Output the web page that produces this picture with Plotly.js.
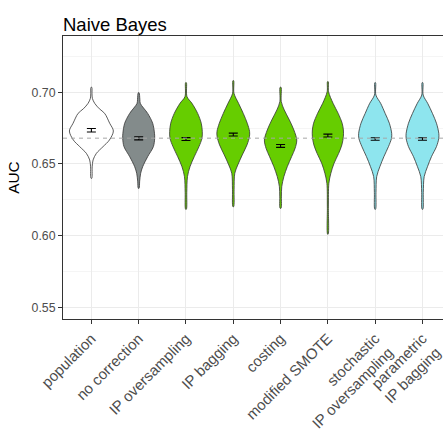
<!DOCTYPE html>
<html>
<head>
<meta charset="utf-8">
<script src="https://cdn.plot.ly/plotly-3.0.1.min.js"></script>
<style>html,body{margin:0;padding:0;background:#fff;}#chart{width:443px;height:439px;}</style>
</head>
<body>
<div id="chart"></div>
<script>
// ---- data ----
const categories = ["population", "no correction", "IP oversampling", "IP bagging",
  "costing", "modified SMOTE", "stochastic IP oversampling", "parametric IP bagging"];
const tickLabels = ["population", "no correction", "IP oversampling", "IP bagging",
  "costing", "modified SMOTE", "stochastic<br>IP oversampling", "parametric<br>IP bagging"];
const meanAUC = [0.6735, 0.6679, 0.6674, 0.6705, 0.6626, 0.6698, 0.6674, 0.6674];
const seAUC   = [0.0012, 0.0011, 0.0010, 0.0010, 0.0010, 0.0010, 0.0009, 0.0009];
const referenceAUC = 0.668;

// density profiles: AUC levels (top to bottom) and violin half-widths (category units)
const densY_population = [0.7035, 0.6990, 0.6958, 0.6923, 0.6885, 0.6853, 0.6784, 0.6730, 0.6667, 0.6621, 0.6574, 0.6528, 0.6480, 0.6400];
const densW_population = [0.008, 0.013, 0.021, 0.070, 0.169, 0.281, 0.387, 0.465, 0.381, 0.247, 0.106, 0.036, 0.017, 0.008];
const densY_noCorrection = [0.6997, 0.6950, 0.6923, 0.6853, 0.6784, 0.6714, 0.6679, 0.6621, 0.6551, 0.6481, 0.6435, 0.6380, 0.6330];
const densW_noCorrection = [0.008, 0.025, 0.034, 0.190, 0.296, 0.334, 0.338, 0.311, 0.190, 0.085, 0.042, 0.021, 0.008];
const densY_ipOversampling = [0.7067, 0.6970, 0.6923, 0.6853, 0.6784, 0.6726, 0.6679, 0.6621, 0.6551, 0.6481, 0.6412, 0.6300, 0.6184];
const densW_ipOversampling = [0.008, 0.021, 0.127, 0.247, 0.323, 0.345, 0.338, 0.275, 0.175, 0.085, 0.032, 0.017, 0.008];
const densY_ipBagging = [0.7081, 0.6993, 0.6923, 0.6853, 0.6784, 0.6726, 0.6691, 0.6633, 0.6563, 0.6493, 0.6435, 0.6320, 0.6202];
const densW_ipBagging = [0.008, 0.015, 0.112, 0.211, 0.296, 0.345, 0.342, 0.290, 0.190, 0.095, 0.032, 0.017, 0.008];
const densY_costing = [0.7035, 0.6935, 0.6877, 0.6807, 0.6737, 0.6667, 0.6609, 0.6551, 0.6481, 0.6412, 0.6342, 0.6270, 0.6191];
const densW_costing = [0.010, 0.015, 0.078, 0.186, 0.281, 0.342, 0.307, 0.233, 0.142, 0.070, 0.025, 0.017, 0.010];
const densY_modSMOTE = [0.7074, 0.7004, 0.6923, 0.6853, 0.6784, 0.6737, 0.6691, 0.6633, 0.6574, 0.6505, 0.6435, 0.6365, 0.6200, 0.6010];
const densW_modSMOTE = [0.008, 0.015, 0.110, 0.218, 0.302, 0.328, 0.328, 0.296, 0.228, 0.131, 0.063, 0.021, 0.011, 0.006];
const densY_stochIP = [0.7067, 0.6981, 0.6923, 0.6853, 0.6784, 0.6714, 0.6679, 0.6621, 0.6551, 0.6481, 0.6412, 0.6300, 0.6184];
const densW_stochIP = [0.008, 0.015, 0.116, 0.211, 0.300, 0.349, 0.345, 0.281, 0.184, 0.099, 0.032, 0.017, 0.008];
const densY_paramIP = [0.7067, 0.6981, 0.6923, 0.6853, 0.6784, 0.6714, 0.6679, 0.6621, 0.6551, 0.6481, 0.6412, 0.6300, 0.6184];
const densW_paramIP = [0.008, 0.015, 0.110, 0.211, 0.296, 0.345, 0.345, 0.296, 0.190, 0.106, 0.036, 0.017, 0.008];

// ---- styles ----
const fills = ["#FFFFFF", "#838B8B", "#66CD00", "#66CD00", "#66CD00", "#66CD00", "#8EE5EE", "#8EE5EE"];
const profilesY = [densY_population, densY_noCorrection, densY_ipOversampling, densY_ipBagging,
  densY_costing, densY_modSMOTE, densY_stochIP, densY_paramIP];
const profilesW = [densW_population, densW_noCorrection, densW_ipOversampling, densW_ipBagging,
  densW_costing, densW_modSMOTE, densW_stochIP, densW_paramIP];
const FONT = "Liberation Sans, Arial, Helvetica, sans-serif";

const traces = [];
categories.forEach((c, i) => {
  const pos = i + 1;
  const ys = profilesY[i], ws = profilesW[i];
  const px = [], py = [];
  for (let k = 0; k < ys.length; k++) { px.push(pos + ws[k]); py.push(ys[k]); }
  for (let k = ys.length - 1; k >= 0; k--) { px.push(pos - ws[k]); py.push(ys[k]); }
  px.push(px[0]); py.push(py[0]);
  traces.push({
    type: "scatter", mode: "lines", x: px, y: py, fill: "toself",
    fillcolor: fills[i], line: {color: "#333333", width: 0.8, shape: "spline", smoothing: 0.9},
    hoverinfo: "skip", showlegend: false, name: c
  });
});
traces.push({
  type: "scatter", mode: "markers",
  x: categories.map((c, i) => i + 1), y: meanAUC,
  marker: {size: 1, color: "rgba(0,0,0,0)"},
  error_y: {type: "data", array: seAUC, visible: true, color: "#000000", thickness: 1.1, width: 4.5},
  showlegend: false, hoverinfo: "skip"
});

const layout = {
  width: 443, height: 439,
  margin: {l: 63, r: 0, t: 36, b: 120},
  paper_bgcolor: "#FFFFFF", plot_bgcolor: "#FFFFFF",
  font: {family: FONT, color: "#4D4D4D"},
  title: {text: "Naive Bayes", font: {family: FONT, size: 18.5, color: "#000000"},
    xref: "paper", x: 0, xanchor: "left", yref: "container", y: 0.929, yanchor: "bottom"},
  xaxis: {
    range: [0.4, 8.434], tickmode: "array",
    tickvals: categories.map((c, i) => i + 1), ticktext: tickLabels,
    tickangle: -45, tickfont: {family: FONT, size: 15, color: "#4D4D4D"},
    ticklabeloverflow: "allow",
    ticks: "outside", ticklen: 4, tickwidth: 1, tickcolor: "#333333",
    showgrid: true, gridcolor: "#EBEBEB", gridwidth: 1,
    showline: true, linecolor: "#333333", linewidth: 1, mirror: true,
    zeroline: false, fixedrange: true
  },
  yaxis: {
    range: [0.5418, 0.7393], tickmode: "array",
    tickvals: [0.55, 0.60, 0.65, 0.70], ticktext: ["0.55", "0.60", "0.65", "0.70"],
    tickfont: {family: FONT, size: 12.3, color: "#4D4D4D"},
    ticks: "outside", ticklen: 4, tickwidth: 1, tickcolor: "#333333",
    showgrid: true, gridcolor: "#EBEBEB", gridwidth: 1,
    minor: {tickvals: [0.575, 0.625, 0.675, 0.725], showgrid: true, gridcolor: "#F2F2F2", gridwidth: 0.8, ticks: ""},
    showline: true, linecolor: "#333333", linewidth: 1, mirror: false,
    zeroline: false,
    title: {text: "AUC", font: {family: FONT, size: 15.4, color: "#000000"}, standoff: 8}
  },
  shapes: [{
    type: "line", xref: "paper", x0: 0, x1: 1, yref: "y", y0: referenceAUC, y1: referenceAUC,
    line: {color: "#A6A6A6", width: 1, dash: "4px,4px"}, layer: "above"
  }]
};

Plotly.newPlot("chart", traces, layout, {displayModeBar: false, staticPlot: true});
</script>
</body>
</html>
